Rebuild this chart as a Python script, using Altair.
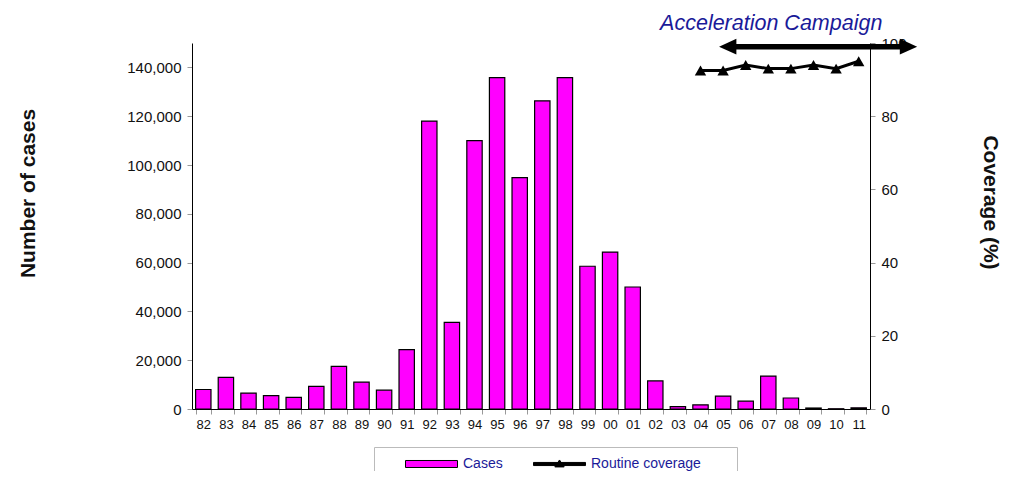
import altair as alt
import pandas as pd

years = ["82", "83", "84", "85", "86", "87", "88", "89", "90", "91", "92", "93", "94", "95", "96",
         "97", "98", "99", "00", "01", "02", "03", "04", "05", "06", "07", "08", "09", "10", "11"]
cases = [8000, 13000, 6500, 5500, 4800, 9300, 17500, 11000, 7700, 24300, 118000, 35500, 110000,
         135800, 94800, 126300, 135800, 58500, 64300, 50000, 11500, 1000, 1700, 5300, 3200, 13500,
         4500, 400, 100, 500]
cov_years = ["04", "05", "06", "07", "08", "09", "10", "11"]
coverage = [92.5, 92.5, 94, 93, 93, 94, 93, 95]

campaign_start = "05"
campaign_label = "Acceleration Campaign"
campaign_label_year = "07"

df_cases = pd.DataFrame({"year": years, "cases": cases, "series": "Cases"})
df_cov = pd.DataFrame({"year": cov_years, "coverage": coverage, "series": "Routine coverage"})
df_arrow = pd.DataFrame({"year": [campaign_start], "coverage": [99]})
df_text = pd.DataFrame({"year": [campaign_label_year], "coverage": [105.3], "label": [campaign_label]})

W, H = 678, 366
FONT = "Liberation Sans"

xscale = alt.Scale(domain=years, paddingInner=0.32, paddingOuter=0.16)
xenc = alt.X("year:N", scale=xscale, sort=years,
             axis=alt.Axis(title=None, labelAngle=0, tickBand="extent", labelFontSize=13,
                           labelColor="#111", tickColor="#999", domainColor="#000",
                           tickSize=5, labelPadding=4))
cov_scale = alt.Scale(domain=[0, 100], nice=False)
cov_axis = alt.Axis(title="Coverage (%)", orient="right", values=[0, 20, 40, 60, 80, 100],
                    labelFontSize=15, labelColor="#111", titleFontSize=21,
                    titleFontWeight="bold", titleAngle=90, titleX=119, titleY=159,
                    titleBaseline="middle", titleColor="#111",
                    tickColor="#999", domainColor="#000", tickSize=5, grid=False, labelPadding=6)
cov_y = alt.Y("coverage:Q", scale=cov_scale, axis=cov_axis)

shape_expr = ("datum.value === 'Cases' ? 'M-1,-0.54H7V0.54H-1Z' : "
              "'M-1,-0.24H7V0.24H-1Z M3,-0.62L3.72,0.45H2.28Z'")

bars = alt.Chart(df_cases).mark_bar(stroke="#000", strokeWidth=1.2).encode(
    x=xenc,
    y=alt.Y("cases:Q", scale=alt.Scale(domain=[0, 150000], nice=False),
            axis=alt.Axis(title="Number of cases", values=list(range(0, 140001, 20000)),
                          format=",d", labelFontSize=15, labelColor="#111",
                          titleFontSize=21, titleFontWeight="bold", titleX=-164, titleY=150,
                          titleBaseline="middle", titleColor="#111",
                          tickColor="#999", domainColor="#000", tickSize=5, grid=False,
                          labelPadding=6)),
    color=alt.Color("series:N",
                    scale=alt.Scale(domain=["Cases", "Routine coverage"], range=["#ff00ff", "#000000"]),
                    legend=alt.Legend(
                        title=" ", titleOrient="right", titlePadding=26,
                        orient="none", legendX=182, legendY=404, direction="horizontal",
                        strokeColor="#bbb", padding=10, symbolSize=169, symbolOffset=21,
                        labelFontSize=14, labelColor="#1a1a99", labelFont=FONT, columnPadding=9,
                        labelPadding=6, labelOffset=44, fillColor="white",
                        symbolType={"expr": shape_expr},
                        symbolStrokeColor="#000", symbolStrokeWidth=1, symbolOpacity=1)),
)

line = alt.Chart(df_cov).mark_line(color="#000", strokeWidth=3).encode(
    x=alt.X("year:N", scale=xscale, sort=years),
    y=cov_y,
)
pts = alt.Chart(df_cov).mark_point(shape="triangle-up", filled=True, color="#000", size=130, opacity=1).encode(
    x=alt.X("year:N", scale=xscale, sort=years),
    y=cov_y,
)

arrow_shaft = alt.Chart(df_arrow).mark_rule(color="#000", strokeWidth=5.5).encode(
    x=alt.X("year:N", scale=xscale, sort=years, bandPosition=0.9),
    x2=alt.value(W + 36),
    y=cov_y,
)
arrow_left = alt.Chart(df_arrow).mark_point(
    shape="M-1,0L1,-0.9L1,0.9Z", filled=True, color="#000", size=300, opacity=1).encode(
    x=alt.X("year:N", scale=xscale, sort=years, bandPosition=0.8),
    y=cov_y,
)
arrow_right = alt.Chart(df_arrow).mark_point(
    shape="M1,0L-1,-0.9L-1,0.9Z", filled=True, color="#000", size=300, opacity=1).encode(
    x=alt.value(W + 38.5),
    y=cov_y,
)
text = alt.Chart(df_text).mark_text(
    font=FONT, fontSize=21.5, fontStyle="italic", color="#1a1a99", baseline="middle", align="center").encode(
    x=alt.X("year:N", scale=xscale, sort=years, bandPosition=0.69),
    y=cov_y,
    text="label:N",
)

right = alt.layer(line, pts, arrow_shaft, arrow_left, arrow_right, text)

chart = alt.layer(bars, right).resolve_scale(y="independent").properties(
    width=W, height=H,
    autosize=alt.AutoSizeParams(type="none"),
    padding={"left": 184, "top": 35, "right": 130, "bottom": 62},
).configure_view(stroke=None).configure_axis(labelFont=FONT, titleFont=FONT)

chart.save("out.html", embed_options={"renderer": "svg", "actions": False})
